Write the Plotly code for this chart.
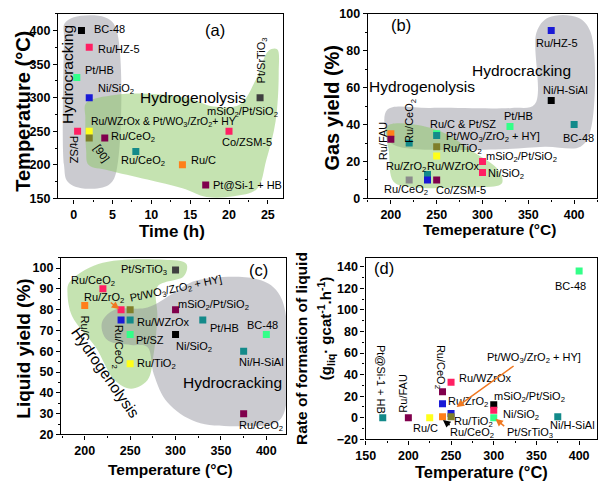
import plotly.graph_objects as go

FONT = "Liberation Sans, Arial, sans-serif"

BLACK = "#000000"; PINK = "#ff1f63"; LGREEN = "#33ff88"; BLUE = "#1a1ad6"
YELLOW = "#ffff1a"; OLIVE = "#7f7f2a"; MAROON = "#80004d"; TEAL = "#138a8a"
ORANGE = "#ff7f1a"; DGRAY = "#3f3f3f"; GRAY = "#8c8c8c"
ARROW_OR = "#f07820"

# ---------------- data ----------------
# (a) time vs temperature
a_time = [1, 2, 0.4, 2, 0.5, 2, 2, 4, 8, 14, 17, 20, 24]
a_temp = [400, 375, 330, 300, 250, 250, 240, 240, 220, 200, 170, 250, 300]
a_colors = [BLACK, PINK, LGREEN, BLUE, PINK, YELLOW, OLIVE, MAROON, TEAL, ORANGE, MAROON, PINK, DGRAY]

# (b) temperature vs gas yield
b_temp = [375, 375, 400, 330, 250, 250, 250, 250, 300, 300, 240, 240, 250, 220, 200, 200, 220]
b_gas = [91, 53, 40, 39, 35, 34, 28, 23, 20, 14, 13, 10, 10, 10, 35, 32, 30]
b_colors = [BLUE, BLACK, TEAL, LGREEN, LGREEN, TEAL, OLIVE, YELLOW, PINK, PINK, TEAL, BLUE, MAROON, GRAY, ORANGE, MAROON, TEAL]

# (c) temperature vs liquid yield
c_temp = [300, 220, 200, 240, 250, 300, 240, 250, 330, 250, 300, 400, 375, 250, 375]
c_liq = [99, 90, 82, 80, 80, 80, 75, 75, 75, 68, 68, 68, 60, 54, 30]
c_colors = [DGRAY, PINK, ORANGE, PINK, OLIVE, MAROON, BLUE, TEAL, TEAL, LGREEN, BLACK, LGREEN, TEAL, YELLOW, MAROON]

# (d) temperature vs rate of formation of liquid
d_temp = [400, 170, 200, 225, 240, 240, 240, 250, 250, 250, 300, 300, 300, 375]
d_rate = [136, 0, 0, 0, 1, 24, 13, 33, 4, 1, 12, 7, 0, 1]
d_colors = [LGREEN, TEAL, MAROON, YELLOW, ORANGE, MAROON, BLUE, PINK, BLUE, OLIVE, BLACK, PINK, LGREEN, TEAL]

# regime outlines (decorative regions)
a_gray = [(-1.2, 410), (0, 420), (4, 420), (5.4, 405), (5.5, 190), (4.5, 170), (1, 165), (-0.8, 175), (-1.25, 200), (-1.25, 390)]
a_green = [(1.6, 292), (5.3, 304), (9.5, 306), (14.6, 300), (18, 287), (21.4, 290), (23.5, 328), (25.1, 370),
           (26.2, 372), (26.4, 338), (26.0, 265), (24.8, 207), (23.6, 164), (20.6, 153), (17.1, 152), (14.0, 165),
           (9.5, 178), (4.4, 192), (1.9, 200), (1.6, 222), (1.5, 270)]
b_gray = [(196, 48), (243, 49), (332, 49), (357, 51), (359, 90), (372, 98), (404, 98), (418, 90), (418, 37),
          (407, 28), (368, 28), (314, 26.5), (203, 29), (195, 35)]
b_green = [(196, 39), (225, 40), (260, 35), (286, 26.5), (318, 15), (321, 8), (278, 6), (225, 6), (203, 9), (198, 25)]
c_gray = [(220, 75), (233, 80), (269, 81), (298, 88), (323, 94), (395, 94), (417, 85), (420, 31), (410, 25.5),
          (377, 24), (323, 26), (291, 35.5), (276, 49), (269, 62), (251, 63), (226, 65), (219, 70)]
c_green = [(183, 93), (215, 102), (287, 104), (312, 102), (309, 96), (280, 91), (280, 77), (276, 59), (269, 46),
           (251, 42), (233, 46), (212, 62), (186, 77), (181, 88)]

GRAY_FILL = "rgba(140,140,150,0.45)"
GREEN_FILL = "rgba(140,200,100,0.5)"

fig = go.Figure()


def region(pts, color, xa, ya):
    xs = [p[0] for p in pts] + [pts[0][0]]
    ys = [p[1] for p in pts] + [pts[0][1]]
    fig.add_trace(go.Scatter(x=xs, y=ys, mode="lines", fill="toself", fillcolor=color,
                             line=dict(width=0, shape="spline", smoothing=1.0), hoverinfo="skip",
                             showlegend=False, xaxis=xa, yaxis=ya))


def points(xs, ys, cols, xa, ya):
    fig.add_trace(go.Scatter(x=xs, y=ys, mode="markers",
                             marker=dict(symbol="square", size=7, color=cols, line=dict(width=0)),
                             showlegend=False, xaxis=xa, yaxis=ya))


region(a_gray, GRAY_FILL, "x", "y")
region(a_green, GREEN_FILL, "x", "y")
points(a_time, a_temp, a_colors, "x", "y")

region(b_gray, GRAY_FILL, "x2", "y2")
region(b_green, GREEN_FILL, "x2", "y2")
points(b_temp, b_gas, b_colors, "x2", "y2")

region(c_green, GREEN_FILL, "x3", "y3")
region(c_gray, GRAY_FILL, "x3", "y3")
points(c_temp, c_liq, c_colors, "x3", "y3")

points(d_temp, d_rate, d_colors, "x4", "y4")

# ---------------- annotations ----------------
ann = []
LS = 11
BIG = 15.5


def lab(panel, text, x, y, anchor="center", angle=0, size=LS, color="black"):
    ann.append(dict(text=text, x=x, y=y, xref="x" + panel, yref="y" + panel, xanchor=anchor, yanchor="middle",
                    textangle=angle, showarrow=False, font=dict(family=FONT, size=size, color=color)))


def arrow(panel, x, y, ax, ay, color):
    ann.append(dict(text="", x=x, y=y, ax=ax, ay=ay, xref="x" + panel, yref="y" + panel,
                    axref="x" + panel, ayref="y" + panel, showarrow=True, arrowhead=2, arrowsize=1,
                    arrowwidth=1.5, arrowcolor=color))


# panel a
pa = ""
lab(pa, "BC-48", 2.3, 402, "left")
lab(pa, "Ru/HZ-5", 2.9, 372, "left")
lab(pa, "Pt/HB", 1.2, 342, "left")
lab(pa, "Ni/SiO<sub>2</sub>", 2.9, 313, "left")
lab(pa, "Hydrocracking", -0.9, 335, angle=-90, size=BIG)
lab(pa, "Hydrogenolysis", 15.4, 300, size=BIG)
lab(pa, "Pt/SrTiO<sub>3</sub>", 24.2, 355, angle=-90)
lab(pa, "mSiO<sub>2</sub>/Pt/SiO<sub>2</sub>", 21.8, 278)
lab(pa, "Ru/WZrOx &amp; Pt/WO<sub>3</sub>/ZrO<sub>2</sub>+ HY", 11.6, 263, size=10.4)
lab(pa, "Ru/CeO<sub>2</sub>", 4.5, 241, "left")
lab(pa, "Pt/SZ", 0.0, 223, angle=90)
lab(pa, "[90]", 3.6, 218, angle=55)
lab(pa, "Ru/CeO<sub>2</sub>", 8.9, 206)
lab(pa, "Ru/C", 14.8, 207, "left")
lab(pa, "Co/ZSM-5", 22.3, 234)
lab(pa, "Pt@Si-1 + HB", 17.7, 170, "left")
lab(pa, "(a)", 18.2, 401, size=16.5)

# panel b
pb = "2"
lab(pb, "(b)", 211, 94, size=16.5)
lab(pb, "Ru/HZ-5", 381, 84)
lab(pb, "Hydrocracking", 343, 69.5, size=BIG)
lab(pb, "Hydrogenolysis", 234, 60.5, size=BIG)
lab(pb, "Ni/H-SiAl", 391, 58.5)
lab(pb, "Pt/HB", 339, 44.5)
lab(pb, "Ru/C &amp; Pt/SZ", 279, 40.3)
lab(pb, "Pt/WO<sub>3</sub>/ZrO<sub>2</sub> + HY]", 258, 33.5, "left")
lab(pb, "BC-48", 405, 32.6)
lab(pb, "Ru/TiO<sub>2</sub>", 255, 26.5, "left")
lab(pb, "mSiO<sub>2</sub>/Pt/SiO<sub>2</sub>", 302, 22.6, "left")
lab(pb, "Ni/SiO<sub>2</sub>", 304, 13.3, "left")
lab(pb, "Ru/ZrO<sub>2</sub>", 217, 16.8)
lab(pb, "Ru/WZrOx", 268, 17.4)
lab(pb, "Ru/CeO<sub>2</sub>", 216, 4.6)
lab(pb, "Co/ZSM-5", 277, 4.6)
lab(pb, "Ru/FAU", 191.5, 31, angle=-90)
lab(pb, "Ru/CeO<sub>2</sub>", 221, 42, angle=-90)

# panel c
pc = "3"
lab(pc, "Pt/SrTiO<sub>3</sub>", 293, 99, "right")
lab(pc, "Ru/CeO<sub>2</sub>", 209, 93.8)
lab(pc, "Ru/ZrO<sub>2</sub>", 221, 85.5)
lab(pc, "Pt/WO<sub>3</sub>/ZrO<sub>2</sub> + HY]", 301, 90, angle=-12)
lab(pc, "Ru/C", 200, 71, angle=90)
lab(pc, "Ru/CeO<sub>2</sub>", 236, 62, angle=90)
lab(pc, "Hydrogenolysis", 223, 50, angle=55, size=BIG)
lab(pc, "Ru/WZrOx", 255, 74.3, "left")
lab(pc, "mSiO<sub>2</sub>/Pt/SiO<sub>2</sub>", 301, 82, "left")
lab(pc, "Pt/HB", 336, 71, "left")
lab(pc, "BC-48", 396, 72.6)
lab(pc, "Pt/SZ", 254, 65.3, "left")
lab(pc, "Ni/SiO<sub>2</sub>", 320, 62)
lab(pc, "Ni/H-SiAl", 395, 55)
lab(pc, "Ru/TiO<sub>2</sub>", 255, 53.8, "left")
lab(pc, "Hydrocracking", 363, 45, size=BIG)
lab(pc, "Ru/CeO<sub>2</sub>", 394, 24)
lab(pc, "(c)", 391, 99, size=16.5)
arrow(pc, 238, 80.3, 227, 84, ARROW_OR)

# panel d
pd_ = "4"
lab(pd_, "(d)", 172, 139, size=16.5)
lab(pd_, "BC-48", 390, 122)
lab(pd_, "Pt@Si-1 + HB", 168, 36, angle=90)
lab(pd_, "Ru/FAU", 193.4, 23, angle=-90)
lab(pd_, "Ru/CeO<sub>2</sub>", 236.5, 47.6, angle=90)
lab(pd_, "Ru/WZrOx", 256.5, 37, "left")
lab(pd_, "Ru/ZrO<sub>2</sub>", 244, 14.5, "left")
lab(pd_, "Ru/TiO<sub>2</sub>", 251.5, -3.5, "left")
lab(pd_, "Ru/C", 220, -9.5)
lab(pd_, "Ru/CeO<sub>2</sub>", 246, -14, "left")
lab(pd_, "Pt/WO<sub>3</sub>/ZrO<sub>2</sub> + HY]", 347, 55)
lab(pd_, "mSiO<sub>2</sub>/Pt/SiO<sub>2</sub>", 298, 19, "left")
lab(pd_, "Ni/SiO<sub>2</sub>", 309, 2.5, "left")
lab(pd_, "Pt/SrTiO<sub>3</sub>", 313, -14, "left")
lab(pd_, "Ni/H-SiAl", 392, -7)
arrow(pd_, 256.5, 10, 325, 49, ARROW_OR)
arrow(pd_, 302, -1, 314, -9, ARROW_OR)
arrow(pd_, 240.5, -2, 250, -8, BLACK)


def title(text, x, y, angle=0, size=15):
    ann.append(dict(text="<b>" + text + "</b>", x=x / 600, y=1 - y / 491, xref="paper", yref="paper",
                    xanchor="center", yanchor="middle", textangle=angle, showarrow=False,
                    font=dict(family=FONT, size=size, color="black")))


title("Temperature (°C)", 13, 107, -90, 20)
title("Time (h)", 165, 231, 0, 17)
title("Gas yield (%)", 327, 104, -90, 20)
title("Temeperature (°C)", 488, 229, 0, 15.5)
title("Liquid yield (%)", 14, 352, -90, 19)
title("Temperature (°C)", 163, 476, 0, 15.5)
title("Rate of formation of liquid", 297, 352, -90, 15.5)
title("(g<sub>liq</sub>· gcat<sup>-1</sup>.h<sup>-1</sup>)", 321, 331, -90, 15)
title("Temperature (°C)", 479, 479, 0, 16.5)


def axis(domain, rng, dtick, minor, anchor):
    return dict(domain=domain, range=rng, dtick=dtick, tick0=0, anchor=anchor,
                showline=True, linecolor="black", linewidth=1.4, mirror=True,
                ticks="outside", ticklen=4, tickwidth=1.4, tickcolor="black",
                minor=dict(ticks="outside", ticklen=2, dtick=minor, tickcolor="black", tickwidth=1),
                showgrid=False, zeroline=False,
                tickfont=dict(family=FONT, size=12.5, color="black", weight="bold"))


fig.update_layout(
    width=600, height=491, margin=dict(l=0, r=0, t=0, b=0),
    paper_bgcolor="white", plot_bgcolor="white", showlegend=False,
    xaxis=axis([49 / 600, 278 / 600], [-2, 27], 5, 2.5, "y"),
    yaxis=axis([1 - 197 / 491, 1 - 7 / 491], [150, 425], 50, 25, "x"),
    xaxis2=axis([364 / 600, 597 / 600], [175, 425], 50, 25, "y2"),
    yaxis2=axis([1 - 197 / 491, 1 - 7 / 491], [0, 100], 20, 10, "x2"),
    xaxis3=axis([52 / 600, 281 / 600], [174, 422], 50, 25, "y3"),
    yaxis3=axis([1 - 440 / 491, 1 - 258 / 491], [20, 105], 10, 5, "x3"),
    xaxis4=axis([361.7 / 600, 597 / 600], [150, 421], 50, 25, "y4"),
    yaxis4=axis([1 - 445 / 491, 1 - 258 / 491], [-20, 148.5], 20, 10, "x4"),
    annotations=ann,
)

fig.write_html("out.html", config={"displayModeBar": False},
               post_script="document.body.style.margin='0px';document.body.style.overflow='hidden';")
